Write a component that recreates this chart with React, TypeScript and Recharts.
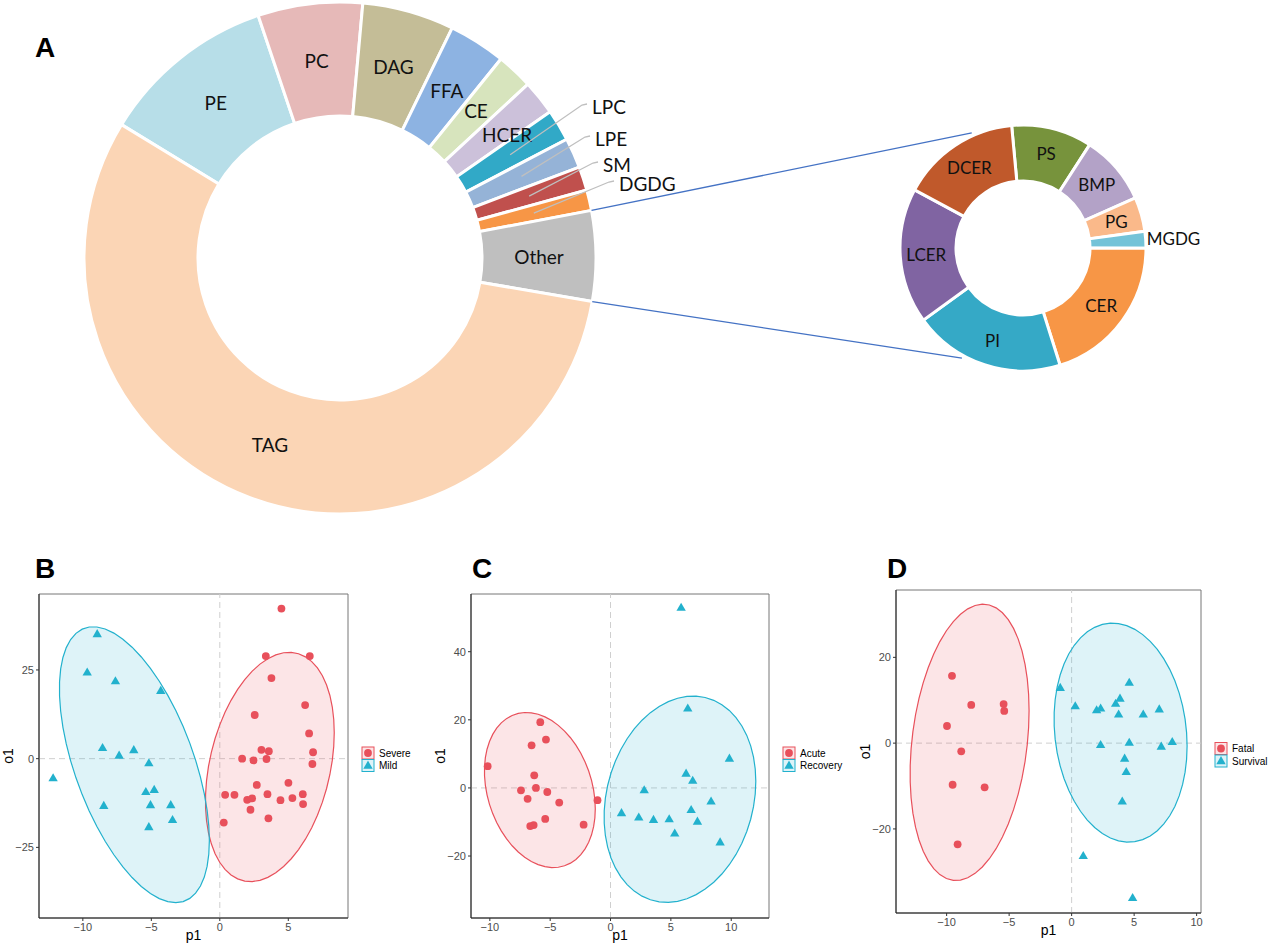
import React from 'react';
import { PieChart, Pie, Cell, ScatterChart, Scatter, XAxis, YAxis, ReferenceLine, ReferenceArea } from 'recharts';

// ---- Panel A: lipid class composition (% of total) ----
const MAIN_CLASSES = ['PE', 'PC', 'DAG', 'FFA', 'CE', 'HCER', 'LPC', 'LPE', 'SM', 'DGDG', 'Other', 'TAG'];
const MAIN_SHARE = [11.1, 6.6, 5.8, 3.6, 2.3, 2.2, 2.0, 1.9, 1.5, 1.3, 5.7, 56.0];
const OTHER_CLASSES = ['PS', 'BMP', 'PG', 'MGDG', 'CER', 'PI', 'LCER', 'DCER'];
const OTHER_SHARE = [10.6, 9.2, 4.5, 2.2, 20.1, 19.9, 17.8, 15.7];

// ---- Panels B-D: OPLS-DA scores (p1, o1) ----
const SEVERE_P1 = [4.5, 3.36, 6.57, 3.77, 6.23, 2.55, 6.52, 3.04, 3.58, 6.81, 1.63, 2.46, 3.41, 6.76, 2.7, 5.01, 0.39, 1.07, 2.0, 2.36, 3.48, 4.43, 5.3, 6.06, 6.08, 2.24, 3.55, 0.29];
const SEVERE_O1 = [42.3, 28.9, 28.9, 22.7, 15.1, 12.3, 7.1, 2.5, 2.1, 1.8, 0.0, -0.5, -0.1, -1.5, -7.4, -6.8, -10.2, -10.2, -11.6, -11.2, -10.0, -11.7, -11.1, -10.0, -12.8, -14.4, -16.8, -18.0];
const MILD_P1 = [-8.95, -9.68, -7.62, -4.31, -8.56, -7.35, -6.28, -5.18, -12.17, -5.4, -4.79, -8.47, -5.06, -3.58, -3.45, -5.18];
const MILD_O1 = [35.0, 24.2, 21.7, 19.0, 2.9, 0.75, 2.3, -1.4, -5.6, -9.5, -8.9, -13.4, -13.2, -13.2, -17.4, -19.4];

const ACUTE_P1 = [-5.82, -5.35, -6.54, -10.18, -6.32, -6.18, -7.42, -5.24, -6.87, -4.25, -1.08, -5.41, -6.65, -6.37, -2.23];
const ACUTE_O1 = [19.3, 14.2, 12.5, 6.4, 3.7, 0.0, -0.7, -1.2, -3.2, -4.3, -3.6, -9.1, -11.2, -10.9, -10.8];
const RECOVERY_P1 = [5.85, 6.4, 9.85, 6.26, 6.81, 2.79, 8.33, 6.68, 0.91, 2.34, 3.56, 4.86, 7.2, 5.32, 9.08];
const RECOVERY_O1 = [52.8, 23.2, 8.5, 4.1, 2.0, -0.8, -4.1, -6.6, -7.5, -8.8, -9.5, -9.3, -10.0, -13.5, -16.1];

const FATAL_P1 = [-9.57, -8.03, -5.44, -5.39, -9.97, -8.83, -9.52, -6.96, -9.12];
const FATAL_O1 = [15.7, 8.9, 9.1, 7.5, 4.0, -1.9, -9.7, -10.3, -23.6];
const SURVIVAL_P1 = [-0.91, 4.61, 3.87, 3.52, 0.29, 2.0, 2.32, 3.76, 5.73, 7.01, 2.32, 4.61, 7.17, 8.05, 4.24, 4.37, 4.05, 0.93, 4.88];
const SURVIVAL_O1 = [12.8, 14.0, 10.3, 9.1, 8.5, 7.6, 8.0, 6.6, 6.6, 7.8, -0.5, 0.0, -0.9, 0.2, -3.7, -6.8, -13.7, -26.4, -36.2];

const B_X_TICKS = [-10, -5, 0, 5];
const B_Y_TICKS = [-25, 0, 25];
const C_X_TICKS = [-10, -5, 0, 5, 10];
const C_Y_TICKS = [-20, 0, 20, 40];
const D_X_TICKS = [-10, -5, 0, 5, 10];
const D_Y_TICKS = [-20, 0, 20];

// ---- styling ----
const MAIN_COLORS = ['#b7dee8', '#e6b9b8', '#c4bd97', '#8db3e2', '#d7e4bd', '#ccc1da', '#31a9c7', '#95b3d7', '#c0504d', '#f79646', '#bfbfbf', '#fbd5b5'];
const OTHER_COLORS = ['#77933c', '#b3a2c7', '#fab98a', '#74c3d8', '#f79646', '#35a9c6', '#8064a2', '#c0592b'];
const RED = '#e8505b';
const BLUE = '#22b1cd';
const PIE_FONT = 'Lato, "Open Sans", sans-serif';
const GG_FONT = '"Liberation Sans", Arial, sans-serif';

const MAIN = { cx: 340, cy: 258, inner: 142, outer: 256, start: 148.6 };
const SMALL = { cx: 1023, cy: 248, inner: 67, outer: 123, start: 95.3 };
// where the zoom connectors meet the small ring (degrees)
const LINK_TOP = 114;
const LINK_BOTTOM = -119;
// leader-label anchors for the thin slices, relative to the ring centre
const CALLOUTS: Record<string, { dx: number; dy: number }> = {
  LPC: { dx: 252, dy: -152 },
  LPE: { dx: 255, dy: -120 },
  SM: { dx: 263, dy: -94 },
  DGDG: { dx: 279, dy: -75 },
};
// small shifts for crowded inside labels
const NUDGE: Record<string, { dx: number; dy: number }> = {
  HCER: { dx: 12, dy: 1 },
  CE: { dx: 0, dy: -2 },
};

const RAD = Math.PI / 180;
const polar = (cx: number, cy: number, r: number, a: number) => ({
  x: cx + r * Math.cos(a * RAD),
  y: cy - r * Math.sin(a * RAD),
});

const mainData = MAIN_CLASSES.map((name, i) => ({ name, value: MAIN_SHARE[i] }));
const otherData = OTHER_CLASSES.map((name, i) => ({ name, value: OTHER_SHARE[i] }));

const renderMainLabel = (p: any) => {
  const name = p.name ?? p.payload?.name;
  const mid = polar(p.cx, p.cy, (p.innerRadius + p.outerRadius) / 2, p.midAngle);
  const c = CALLOUTS[name];
  if (c) {
    const tx = p.cx + c.dx;
    const ty = p.cy + c.dy;
    return (
      <g>
        <polyline points={`${mid.x},${mid.y} ${tx - 10},${ty - 1} ${tx - 5},${ty - 2}`} fill="none" stroke="#bfbfbf" strokeWidth={1.3} />
        <text x={tx} y={ty} dominantBaseline="central" fontFamily={PIE_FONT} fontSize={19} fill="#111">{name}</text>
      </g>
    );
  }
  const n = NUDGE[name] ?? { dx: 0, dy: 0 };
  const text = (
    <text x={mid.x + n.dx} y={mid.y + n.dy} textAnchor="middle" dominantBaseline="central" fontFamily={PIE_FONT} fontSize={19} fill="#111">{name}</text>
  );
  if (name !== 'Other') return text;
  const hi = polar(p.cx, p.cy, p.outerRadius, Math.max(p.startAngle, p.endAngle));
  const lo = polar(p.cx, p.cy, p.outerRadius, Math.min(p.startAngle, p.endAngle));
  const t1 = polar(SMALL.cx, SMALL.cy, SMALL.outer + 3, LINK_TOP);
  const t2 = polar(SMALL.cx, SMALL.cy, SMALL.outer + 3, LINK_BOTTOM);
  return (
    <g>
      <line x1={hi.x} y1={hi.y} x2={t1.x} y2={t1.y} stroke="#4472c4" strokeWidth={1.3} />
      <line x1={lo.x} y1={lo.y} x2={t2.x} y2={t2.y} stroke="#4472c4" strokeWidth={1.3} />
      {text}
    </g>
  );
};

const renderOtherLabel = (p: any) => {
  const name = p.name ?? p.payload?.name;
  if (name === 'MGDG') {
    const o = polar(p.cx, p.cy, p.outerRadius + 1, p.midAngle);
    return <text x={o.x} y={o.y - 1} dominantBaseline="central" fontFamily={PIE_FONT} fontSize={17} fill="#111">{name}</text>;
  }
  const mid = polar(p.cx, p.cy, (p.innerRadius + p.outerRadius) / 2 + 2, p.midAngle);
  return <text x={mid.x} y={mid.y} textAnchor="middle" dominantBaseline="central" fontFamily={PIE_FONT} fontSize={17} fill="#111">{name}</text>;
};

// ---- stat_ellipse (type "t", level 0.95) ----
type Pt = { x: number; y: number };
const zip = (a: number[], b: number[]): Pt[] => a.map((x, i) => ({ x, y: b[i] }));
const sum = (v: number[]) => v.reduce((s, x) => s + x, 0);

function covTrob(pts: Pt[], nu = 5, maxit = 25, tol = 0.01) {
  const n = pts.length;
  let w = pts.map(() => 1);
  let lx = sum(pts.map((p) => p.x)) / n;
  let ly = sum(pts.map((p) => p.y)) / n;
  let cov = [0, 0, 0];
  for (let it = 0; it < maxit; it++) {
    const w0 = w;
    const X = pts.map((p) => [p.x - lx, p.y - ly]);
    const sw = sum(w);
    let a = 0, b = 0, c = 0;
    X.forEach(([dx, dy], i) => { a += w[i] * dx * dx; b += w[i] * dx * dy; c += w[i] * dy * dy; });
    a /= sw; b /= sw; c /= sw;
    const det = a * c - b * b;
    w = X.map(([dx, dy]) => (nu + 2) / (nu + (c * dx * dx - 2 * b * dx * dy + a * dy * dy) / det));
    const sw2 = sum(w);
    lx = sum(pts.map((p, i) => w[i] * p.x)) / sw2;
    ly = sum(pts.map((p, i) => w[i] * p.y)) / sw2;
    let A = 0, B = 0, C = 0;
    X.forEach(([dx, dy], i) => { A += w[i] * dx * dx; B += w[i] * dx * dy; C += w[i] * dy * dy; });
    cov = [A / n, B / n, C / n];
    if (w.every((v, i) => Math.abs(v - w0[i]) < tol)) break;
  }
  return { lx, ly, cov };
}

const qf95 = (d: number) => (d / 2) * (Math.pow(0.05, -2 / d) - 1);

function ellipse(pts: Pt[]): Pt[] {
  const { lx, ly, cov } = covTrob(pts);
  const [a, b, c] = cov;
  const r = Math.sqrt(2 * qf95(pts.length - 1));
  const r11 = Math.sqrt(a);
  const r12 = b / r11;
  const r22 = Math.sqrt(c - (b * b) / a);
  return Array.from({ length: 52 }, (_, k) => {
    const t = (2 * Math.PI * k) / 51;
    const u = Math.cos(t);
    const v = Math.sin(t);
    return { x: lx + r * u * r11, y: ly + r * (u * r12 + v * r22) };
  });
}

// ---- markers ----
const Dot = ({ cx, cy, color }: any) => <circle cx={cx} cy={cy} r={3.9} fill={color} />;
const Tri = ({ cx, cy, color }: any) => {
  const r = 5.4;
  const h = r * 0.866;
  return <path d={`M${cx},${cy - r} L${cx + h},${cy + r / 2} L${cx - h},${cy + r / 2} Z`} fill={color} />;
};

type Group = { name: string; color: string; marker: 'circle' | 'triangle'; p1: number[]; o1: number[] };
type Box = { left: number; right: number; top: number; bottom: number };

const YW = 40;
const XH = 30;
const MT = 10;
const MR = 10;
const fmt = (v: number) => (v < 0 ? `\u2212${Math.abs(v)}` : `${v}`);

function ScorePanel({ box, xDomain, yDomain, xTicks, yTicks, groups }: {
  box: Box; xDomain: number[]; yDomain: number[]; xTicks: number[]; yTicks: number[]; groups: Group[];
}) {
  const width = box.right - box.left + YW + MR;
  const height = box.bottom - box.top + MT + XH;
  const sets = groups.map((g) => {
    const pts = zip(g.p1, g.o1);
    return { ...g, pts, ring: ellipse(pts) };
  });
  const tick = { fontSize: 11, fill: '#4d4d4d', fontFamily: GG_FONT };
  return (
    <div style={{ position: 'absolute', left: box.left - YW, top: box.top - MT }}>
      <ScatterChart width={width} height={height} margin={{ top: MT, right: MR, bottom: 0, left: 0 }}>
        <XAxis type="number" dataKey="x" domain={xDomain} ticks={xTicks} allowDataOverflow height={XH}
          tickSize={3} tickMargin={2} tick={tick} tickFormatter={fmt} interval={0}
          axisLine={{ stroke: '#222' }} tickLine={{ stroke: '#333' }} />
        <YAxis type="number" dataKey="y" domain={yDomain} ticks={yTicks} allowDataOverflow width={YW}
          tickSize={3} tickMargin={2} tick={tick} tickFormatter={fmt} interval={0}
          axisLine={{ stroke: '#222' }} tickLine={{ stroke: '#333' }} />
        <ReferenceArea x1={xDomain[0]} x2={xDomain[1]} y1={yDomain[0]} y2={yDomain[1]} fill="none" stroke="#777" strokeWidth={1} ifOverflow="visible" />
        <ReferenceLine x={0} stroke="#cfcfcf" strokeDasharray="6 4" />
        <ReferenceLine y={0} stroke="#cfcfcf" strokeDasharray="6 4" />
        {sets.map((s) => (
          <Scatter key={`ring-${s.name}`} data={s.ring} isAnimationActive={false} shape={() => <g />}
            line={(lp: any) => (
              <path d={lp.points.map((q: Pt, i: number) => `${i ? 'L' : 'M'}${q.x},${q.y}`).join(' ') + ' Z'}
                fill={s.color} fillOpacity={0.15} stroke={s.color} strokeWidth={1.2} />
            )} />
        ))}
        {sets.map((s) => (
          <Scatter key={s.name} data={s.pts} isAnimationActive={false}
            shape={(sp: any) => (s.marker === 'circle' ? <Dot cx={sp.cx} cy={sp.cy} color={s.color} /> : <Tri cx={sp.cx} cy={sp.cy} color={s.color} />)} />
        ))}
      </ScatterChart>
    </div>
  );
}

function PanelText({ box, groups }: { box: Box; groups: Group[] }) {
  const xm = (box.left + box.right) / 2;
  const ym = (box.top + box.bottom) / 2;
  const kx = box.right + 20;
  return (
    <g fontFamily={GG_FONT}>
      <text x={xm} y={box.bottom + 17} textAnchor="middle" dominantBaseline="central" fontSize={14}>p1</text>
      <text transform={`translate(${box.left - 31},${ym}) rotate(-90)`} textAnchor="middle" dominantBaseline="central" fontSize={14}>o1</text>
      {groups.map((g, i) => {
        const ky = ym - 3 + i * 12.5;
        return (
          <g key={g.name}>
            <rect x={kx - 6} y={ky - 6} width={12} height={12} fill={g.color} fillOpacity={0.15} stroke={g.color} strokeWidth={1} />
            {g.marker === 'circle' ? <Dot cx={kx} cy={ky} color={g.color} /> : <Tri cx={kx} cy={ky + 0.5} color={g.color} />}
            <text x={kx + 11} y={ky} dominantBaseline="central" fontSize={10}>{g.name}</text>
          </g>
        );
      })}
    </g>
  );
}

const B_GROUPS: Group[] = [
  { name: 'Severe', color: RED, marker: 'circle', p1: SEVERE_P1, o1: SEVERE_O1 },
  { name: 'Mild', color: BLUE, marker: 'triangle', p1: MILD_P1, o1: MILD_O1 },
];
const C_GROUPS: Group[] = [
  { name: 'Acute', color: RED, marker: 'circle', p1: ACUTE_P1, o1: ACUTE_O1 },
  { name: 'Recovery', color: BLUE, marker: 'triangle', p1: RECOVERY_P1, o1: RECOVERY_O1 },
];
const D_GROUPS: Group[] = [
  { name: 'Fatal', color: RED, marker: 'circle', p1: FATAL_P1, o1: FATAL_O1 },
  { name: 'Survival', color: BLUE, marker: 'triangle', p1: SURVIVAL_P1, o1: SURVIVAL_O1 },
];

const B_BOX = { left: 39, right: 348, top: 594, bottom: 918 };
const C_BOX = { left: 471, right: 769, top: 594, bottom: 918 };
const D_BOX = { left: 896, right: 1201, top: 590, bottom: 913 };

export default function App() {
  return (
    <div style={{ position: 'absolute', left: 0, top: 0, width: 1270, height: 944, background: '#fff', fontFamily: GG_FONT }}>
      <div style={{ position: 'absolute', left: 0, top: 0 }}>
        <PieChart width={1270} height={530} margin={{ top: 0, right: 0, bottom: 0, left: 0 }}>
          <Pie data={mainData} dataKey="value" nameKey="name" cx={MAIN.cx} cy={MAIN.cy}
            innerRadius={MAIN.inner} outerRadius={MAIN.outer} startAngle={MAIN.start} endAngle={MAIN.start - 360}
            stroke="#fff" strokeWidth={3} label={renderMainLabel} labelLine={false} isAnimationActive={false}>
            {mainData.map((d, i) => <Cell key={d.name} fill={MAIN_COLORS[i]} />)}
          </Pie>
          <Pie data={otherData} dataKey="value" nameKey="name" cx={SMALL.cx} cy={SMALL.cy}
            innerRadius={SMALL.inner} outerRadius={SMALL.outer} startAngle={SMALL.start} endAngle={SMALL.start - 360}
            stroke="#fff" strokeWidth={3} label={renderOtherLabel} labelLine={false} isAnimationActive={false}>
            {otherData.map((d, i) => <Cell key={d.name} fill={OTHER_COLORS[i]} />)}
          </Pie>
        </PieChart>
      </div>
      <ScorePanel box={B_BOX} xDomain={[-13.2, 9.36]} yDomain={[-44.9, 46.4]} xTicks={B_X_TICKS} yTicks={B_Y_TICKS} groups={B_GROUPS} />
      <ScorePanel box={C_BOX} xDomain={[-11.56, 13.13]} yDomain={[-38.2, 56.95]} xTicks={C_X_TICKS} yTicks={C_Y_TICKS} groups={C_GROUPS} />
      <ScorePanel box={D_BOX} xDomain={[-14.05, 10.35]} yDomain={[-39.6, 35.7]} xTicks={D_X_TICKS} yTicks={D_Y_TICKS} groups={D_GROUPS} />
      <svg width={1270} height={944} style={{ position: 'absolute', left: 0, top: 0, pointerEvents: 'none' }}>
        <g fontFamily={GG_FONT} fontWeight="bold" fontSize={28} textAnchor="middle" dominantBaseline="central">
          <text x={45} y={47}>A</text>
          <text x={45} y={568}>B</text>
          <text x={482} y={568}>C</text>
          <text x={897} y={568}>D</text>
        </g>
        <PanelText box={B_BOX} groups={B_GROUPS} />
        <PanelText box={C_BOX} groups={C_GROUPS} />
        <PanelText box={D_BOX} groups={D_GROUPS} />
      </svg>
    </div>
  );
}
